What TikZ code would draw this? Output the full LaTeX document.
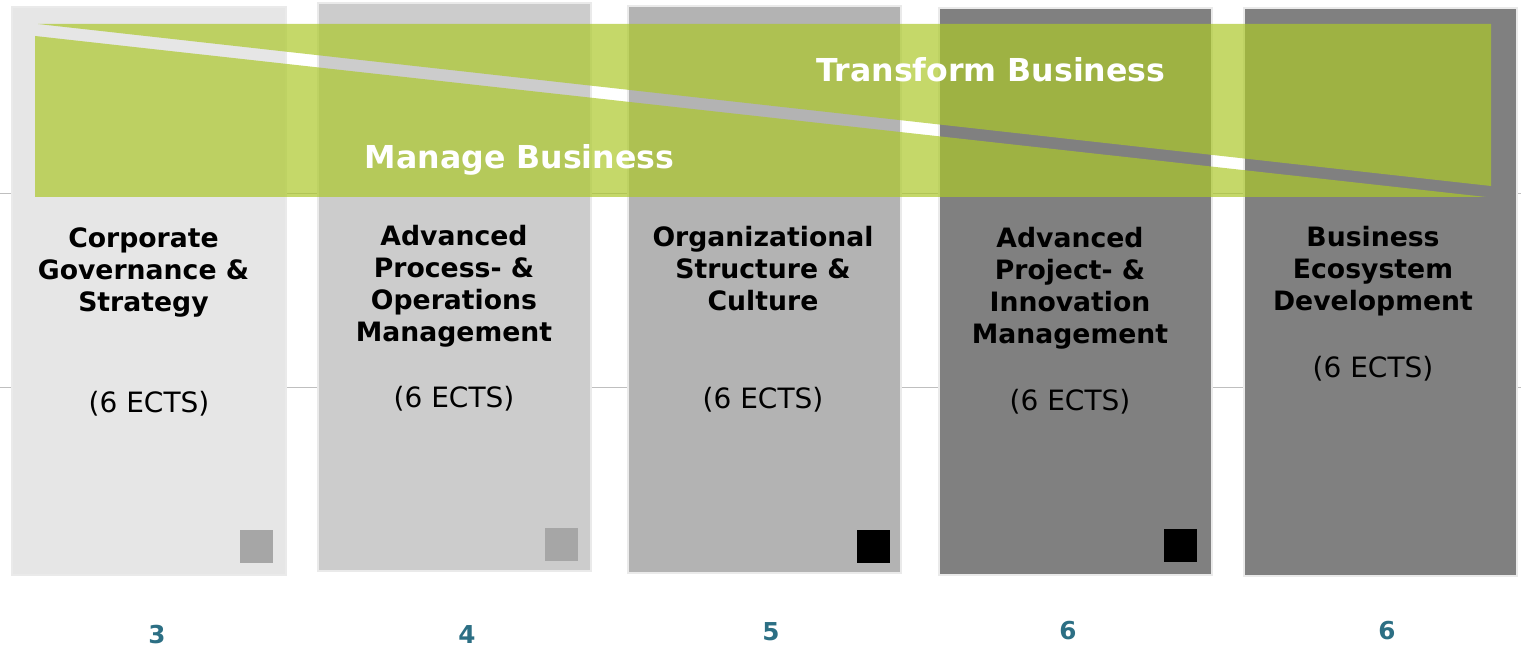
\documentclass[tikz,border=0pt]{standalone}
\usepackage{fontspec}
\setmainfont{DejaVu Sans}
\definecolor{tgreen}{RGB}{172,200,42}
\definecolor{gA}{HTML}{E6E6E6}
\definecolor{gB}{HTML}{CCCCCC}
\definecolor{gC}{HTML}{B3B3B3}
\definecolor{gD}{HTML}{808080}
\definecolor{frame}{HTML}{EAEAEA}
\definecolor{sqgray}{HTML}{A6A6A6}
\definecolor{teal}{HTML}{2C6F84}
\definecolor{hline}{HTML}{BFBFBF}
\begin{document}
\begin{tikzpicture}[x=0.75pt,y=-0.75pt,
  col/.style={draw=frame,line width=1.5pt},
  title/.style={font=\fontsize{20}{24}\selectfont\bfseries,align=center,inner sep=0pt,text=black},
  ects/.style={font=\fontsize{21}{24}\selectfont,inner sep=0pt,text=black},
  num/.style={font=\fontsize{18.5}{20}\selectfont\bfseries,text=teal,inner sep=0pt},
  tri/.style={fill=tgreen,fill opacity=0.7,draw=none},
  big/.style={font=\fontsize{23.7}{28}\selectfont\bfseries,text=white,inner sep=0pt},
  sq/.style={draw=none}]
\useasboundingbox (0,0) rectangle (1521,656);
% background guide lines
\draw[hline,line width=1.1pt] (0,193.5) -- (1521,193.5);
\draw[hline,line width=1.1pt] (0,387.5) -- (1521,387.5);
% columns
\filldraw[col,fill=gA] (12,7) rectangle (286,575);
\filldraw[col,fill=gB] (318,3) rectangle (591,571);
\filldraw[col,fill=gC] (628,6) rectangle (901,573);
\filldraw[col,fill=gD] (939,8) rectangle (1212,575);
\filldraw[col,fill=gD] (1244,8) rectangle (1517,576);
% small squares
\fill[sqgray] (240,530) rectangle (273,563);
\fill[sqgray] (545,528) rectangle (578,561);
\fill[black] (857,530) rectangle (890,563);
\fill[black] (1164,529) rectangle (1197,562);
% green triangles
\fill[tri] (38,24) -- (1491,24) -- (1491,186) -- cycle;
\fill[tri] (35,36) -- (35,197) -- (1486,197) -- cycle;
\node[big] (transform) at (991,70) {Transform Business};
\node[big] (manage) at (519.5,160) {Manage Business};
% titles
\node[title] (t1) at (143.5,272) {Corporate\\Governance \&\\Strategy};
\node[title] (t2) at (454,286) {Advanced\\Process- \&\\Operations\\Management};
\node[title] (t3) at (763,269) {Organizational\\Structure \&\\Culture};
\node[title] (t4) at (1070,288) {Advanced\\Project- \&\\Innovation\\Management};
\node[title] (t5) at (1373,271) {Business\\Ecosystem\\Development};
% ects
\node[ects] (e1) at (149,404) {(6 ECTS)};
\node[ects] (e2) at (454,399) {(6 ECTS)};
\node[ects] (e3) at (763,400) {(6 ECTS)};
\node[ects] (e4) at (1070,402) {(6 ECTS)};
\node[ects] (e5) at (1373,369) {(6 ECTS)};
% numbers
\node[num] (n1) at (157,635) {3};
\node[num] (n2) at (467,635) {4};
\node[num] (n3) at (771,632) {5};
\node[num] (n4) at (1068,631) {6};
\node[num] (n5) at (1387,631) {6};
\end{tikzpicture}
\end{document}
